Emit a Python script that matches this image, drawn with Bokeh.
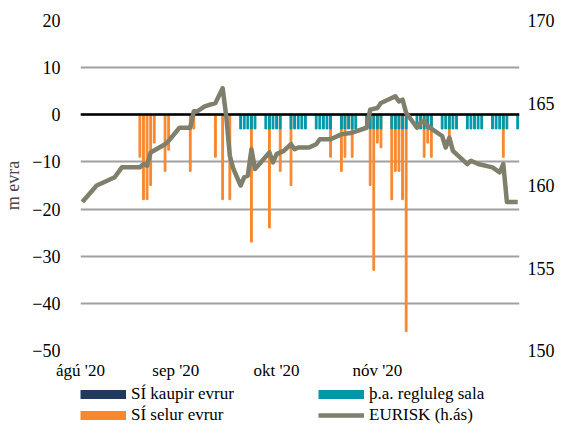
from bokeh.plotting import figure
from bokeh.layouts import column
from bokeh.models import (Range1d, LinearAxis, FixedTicker, SingleIntervalTicker,
                          Legend, LegendItem)
from bokeh.embed import file_html
from bokeh.resources import INLINE

# x = day index, 0 = 1 Aug 2020 ... 121 = 30 Nov 2020
x_tick_days = [-0.5, 26, 54, 82]
x_tick_labels = ["ágú '20", "sep '20", "okt '20", "nóv '20"]

# SÍ selur evrur (m evra)
sala_days = [16, 17, 18, 19, 20, 23, 24, 30, 31, 37, 39, 41, 47, 52, 55, 58,
             69, 72, 73, 75, 80, 81, 82, 83, 86, 87, 88, 89, 90, 95, 96, 97, 102, 117]
sala_vals = [-9, -18, -18, -15, -6, -12, -7.5, -12, -3, -9, -18, -18, -27, -24, -12, -15,
             -9, -12, -9, -9, -15, -33, -6, -7, -18, -12, -12, -18, -46, -9, -6, -9, -4.5, -9]

# þ.a. regluleg sala (m evra)
regl_days = [44, 45, 46, 47, 48, 51, 52, 53, 54, 55, 58, 59, 60, 61, 62,
             65, 66, 67, 68, 69, 72, 73, 74, 75, 76, 79, 80, 81, 82, 83,
             86, 87, 88, 89, 90, 93, 94, 95, 96, 97, 100, 101, 102, 103, 104,
             107, 108, 109, 110, 111, 114, 115, 116, 117, 118, 121]
regl_vals = [-3, -3, -3, -3, -3, -3, -3, -3, -3, -3, -3, -3, -3, -3, -3,
             -3, -3, -3, -3, -3, -3, -3, -3, -3, -3, -3, -3, -3, -3, -3,
             -3, -3, -3, -3, -3, -3, -3, -3, -3, -3, -3, -3, -3, -3, -3,
             -3, -3, -3, -3, -3, -3, -3, -3, -3, -3, -3]

# SÍ kaupir evrur (no purchases in the period)
kaup_days = []
kaup_vals = []

# EURISK (right axis)
eur_days = [0, 2, 4, 6, 9, 11, 16, 17, 18, 19, 23, 24, 27, 30, 31, 32, 34, 37, 39, 40,
            41, 42, 44, 45, 46, 47, 48, 50, 52, 53, 54, 56, 58, 59, 60, 63, 65, 66, 69,
            72, 75, 79, 80, 82, 83, 86, 87, 88, 89, 90, 92, 93, 94, 95, 96, 98, 100,
            101, 102, 103, 107, 108, 110, 114, 116, 117, 118, 121]
eur_vals = [159.0, 159.5, 160.0, 160.2, 160.5, 161.1, 161.1, 161.3, 161.2, 162.0, 162.5,
            162.7, 163.5, 163.5, 164.5, 164.5, 164.8, 165.0, 165.9, 164.2,
            161.8, 161.0, 160.0, 160.5, 160.6, 162.2, 161.0, 161.5, 162.0, 161.4, 161.9,
            162.1, 162.5, 162.2, 162.3, 162.3, 162.5, 162.8, 162.8,
            163.1, 163.2, 163.5, 164.6, 164.7, 165.0, 165.3, 165.4, 165.1, 165.2, 164.4,
            163.8, 163.5, 163.8, 163.9, 163.6, 163.3, 163.0,
            162.3, 162.9, 162.1, 161.3, 161.5, 161.3, 161.1, 160.8, 161.3, 159.0, 159.0]

legend_labels = ["SÍ kaupir evrur", "þ.a. regluleg sala", "SÍ selur evrur", "EURISK (h.ás)"]

NAVY = "#1f3a5c"
ORANGE = "#f7882f"
TEAL = "#0097a9"
GREY = "#7f7f6b"
FONT = "Liberation Serif"
NAN = float("nan")

p = figure(width=557, height=382, output_backend="svg", toolbar_location=None,
           x_range=Range1d(-0.5, 121.5), y_range=Range1d(-50, 20),
           min_border_left=69, min_border_right=30, min_border_top=20,
           min_border_bottom=31)
p.outline_line_color = None
p.extra_y_ranges = {"eur": Range1d(150, 170)}

# axes
xa = p.xaxis[0]
xa.ticker = FixedTicker(ticks=x_tick_days)
xa.major_label_overrides = dict(zip(x_tick_days, x_tick_labels))
ya = p.yaxis[0]
ya.ticker = SingleIntervalTicker(interval=10)
ya.axis_label = "m evra"
ya.axis_label_text_font = FONT
ya.axis_label_text_font_style = "normal"
ya.axis_label_text_font_size = "18px"
ya.axis_label_standoff = 6
ra = LinearAxis(y_range_name="eur", ticker=SingleIntervalTicker(interval=5))
p.add_layout(ra, "right")

for ax, size, standoff in [(xa, "17px", 10), (ya, "18px", 16), (ra, "18px", 4)]:
    ax.axis_line_color = None
    ax.major_tick_line_color = None
    ax.minor_tick_line_color = None
    ax.major_tick_out = 0
    ax.major_tick_in = 0
    ax.major_label_text_font = FONT
    ax.major_label_text_font_size = size
    ax.major_label_text_color = "black"
    ax.major_label_standoff = standoff

p.xgrid.visible = False
p.ygrid.ticker = SingleIntervalTicker(interval=10)
p.ygrid.grid_line_color = "#a0a0a0"
p.ygrid.grid_line_width = 2

# bars
p.vbar(x=kaup_days, top=kaup_vals, bottom=0, width=0.5, color=NAVY)
p.vbar(x=sala_days, top=0, bottom=sala_vals, width=0.5, color=ORANGE)
p.vbar(x=regl_days, top=0, bottom=regl_vals, width=0.5, color=TEAL)

# zero line
p.hspan(y=[0], line_color="black", line_width=2.5)

p.line(eur_days, eur_vals, y_range_name="eur", line_color=GREY,
       line_width=4.5, line_join="round")

# legend strip (swatches are undrawn NaN proxies)
q = figure(width=557, height=43, output_backend="svg", toolbar_location=None,
           x_axis_type=None, y_axis_type=None, x_range=Range1d(0, 1), y_range=Range1d(0, 1),
           min_border=0)
q.outline_line_color = None
q.grid.visible = False
lk = q.line(x=[0], y=[NAN], line_color=NAVY, line_width=9)
lr = q.line(x=[0], y=[NAN], line_color=TEAL, line_width=9)
ls = q.line(x=[0], y=[NAN], line_color=ORANGE, line_width=9)
le = q.line(x=[0], y=[NAN], line_color=GREY, line_width=4.5)
legend = Legend(items=[LegendItem(label=t, renderers=[r])
                       for t, r in zip(legend_labels, [lk, lr, ls, le])],
                location=(0, 0), orientation="horizontal", ncols=2,
                glyph_width=46, glyph_height=18, label_height=18, label_width=186,
                label_standoff=5, spacing=1, padding=0, margin=0,
                border_line_color=None, background_fill_alpha=0,
                label_text_font=FONT, label_text_font_size="17px",
                label_text_color="black")
q.add_layout(legend)

layout = column(p, q, spacing=0)
open("out.html", "w").write(file_html(layout, INLINE))
